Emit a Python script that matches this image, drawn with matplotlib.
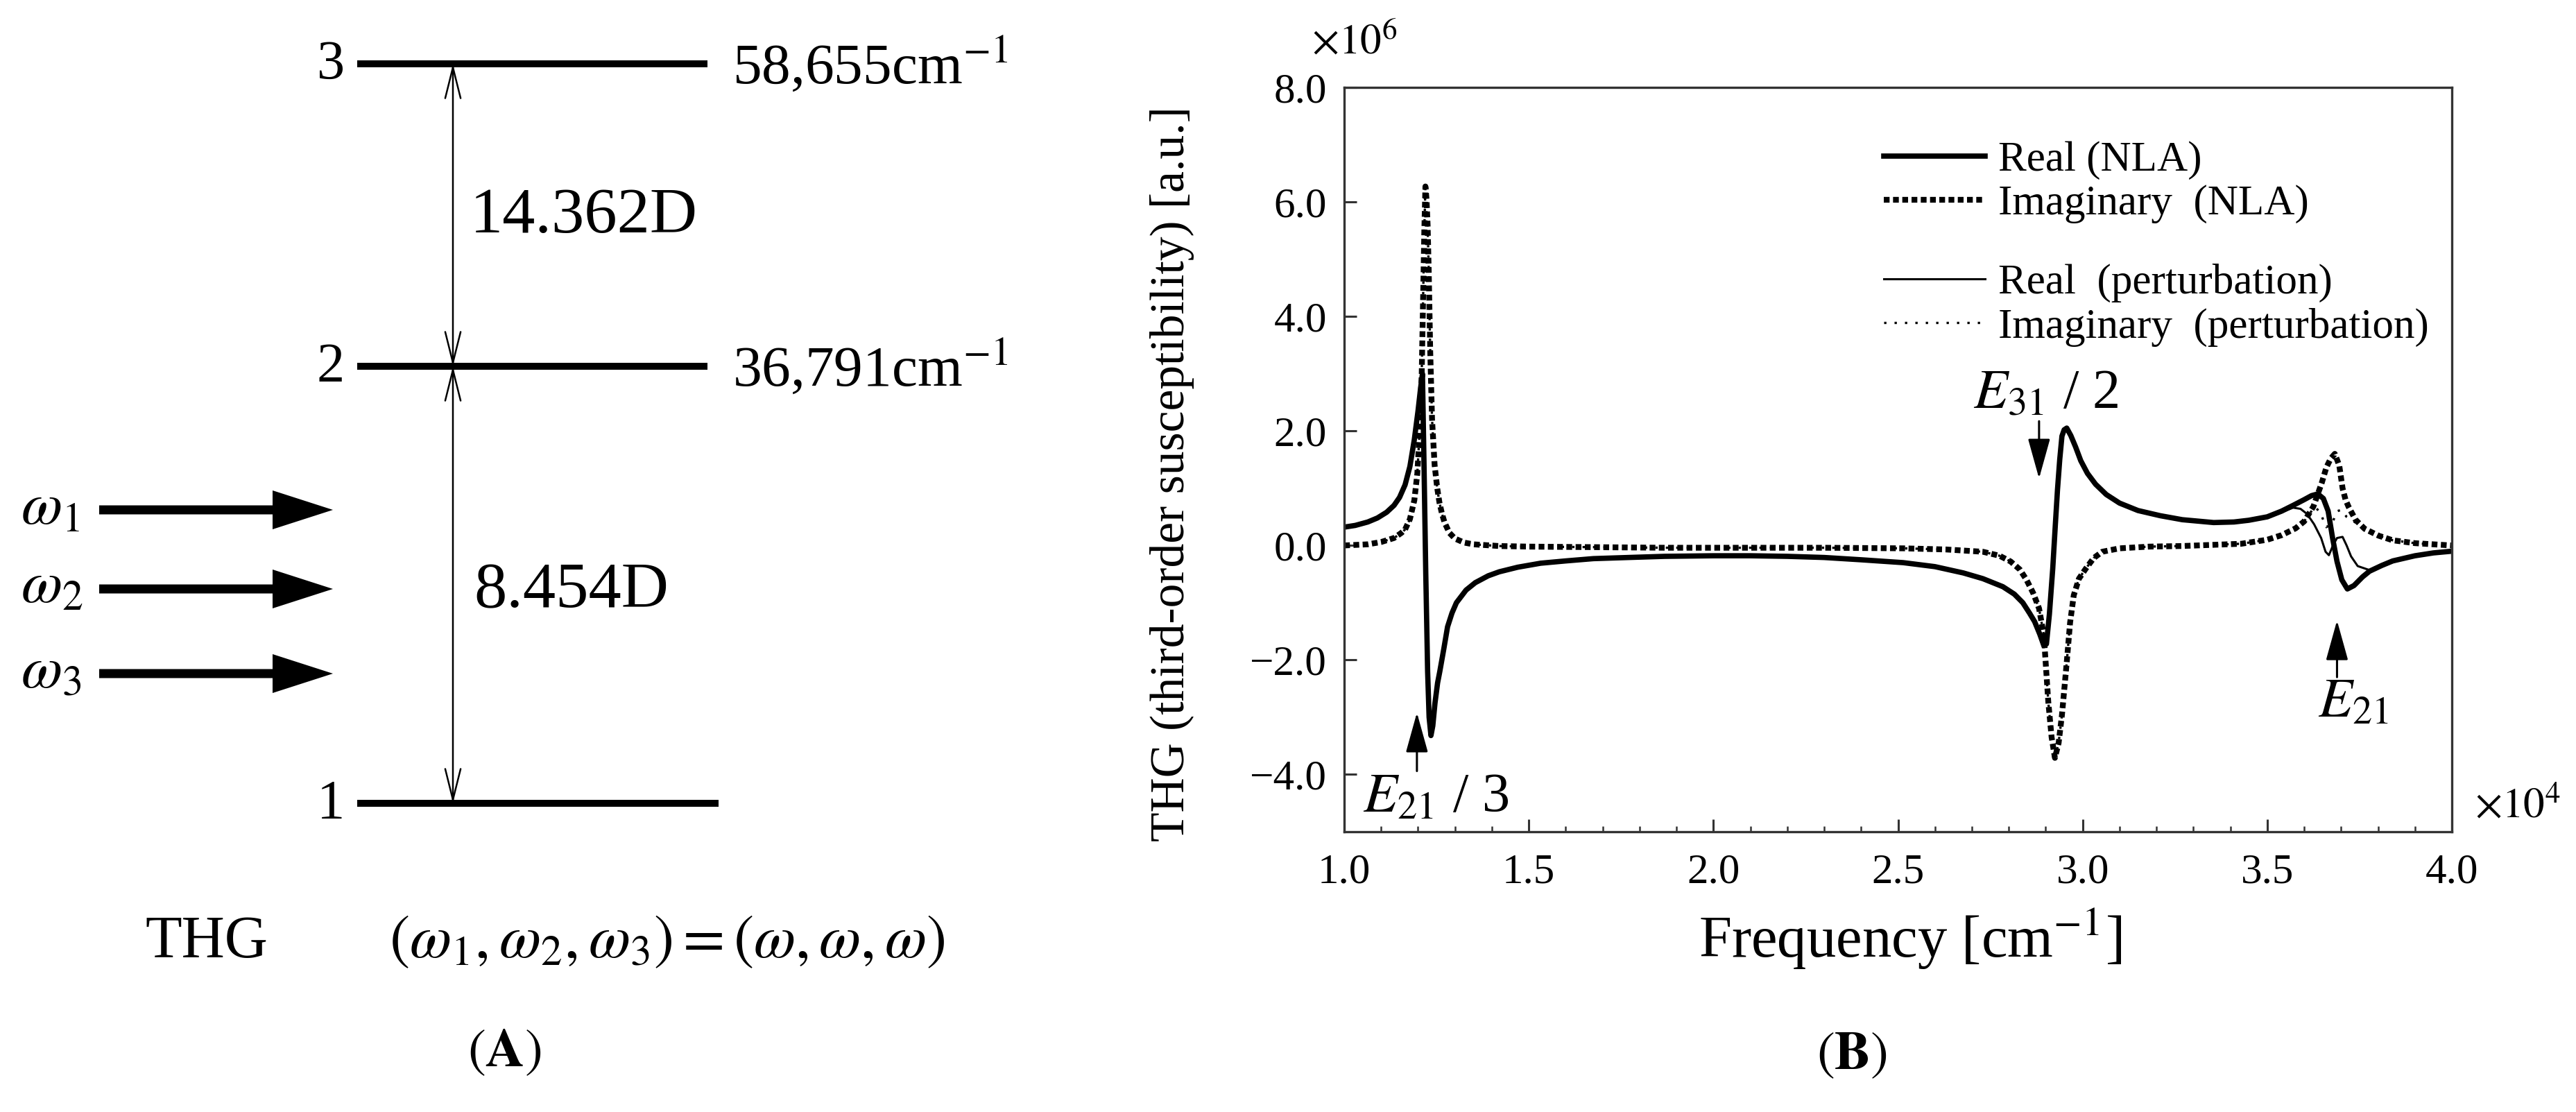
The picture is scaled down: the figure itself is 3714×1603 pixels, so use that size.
import matplotlib
matplotlib.use('Agg')
import matplotlib.pyplot as plt
from matplotlib.lines import Line2D
from matplotlib.ticker import FixedLocator, FixedFormatter, MultipleLocator

plt.rcParams['font.family'] = ['Liberation Serif', 'DejaVu Serif']
plt.rcParams['mathtext.fontset'] = 'stix'

# ---------------- Panel B data (x in 1e4 cm^-1, y in 1e6 a.u.) ----------------
real_nla_x = [1.00, 1.03, 1.064, 1.09, 1.115, 1.135, 1.15, 1.165, 1.178, 1.19, 1.20, 1.207,
              1.212, 1.216, 1.221, 1.226, 1.230, 1.235, 1.240, 1.246, 1.253, 1.259, 1.27,
              1.28, 1.292, 1.304, 1.33, 1.355, 1.39, 1.42, 1.47, 1.532, 1.60, 1.675, 1.77,
              1.868, 2.00, 2.10, 2.20, 2.30, 2.40, 2.514, 2.60, 2.677, 2.73, 2.784, 2.815,
              2.838, 2.856, 2.87, 2.884, 2.895, 2.902, 2.910, 2.919, 2.926, 2.932, 2.938,
              2.944, 2.950, 2.957, 2.968, 2.981, 2.995, 3.013, 3.035, 3.064, 3.10, 3.15,
              3.21, 3.27, 3.355, 3.41, 3.45, 3.50, 3.539, 3.57, 3.60, 3.62, 3.637, 3.652,
              3.665, 3.677, 3.689, 3.702, 3.717, 3.735, 3.758, 3.777, 3.81, 3.84, 3.90,
              3.95, 4.00]
real_nla_y = [0.32, 0.35, 0.41, 0.48, 0.58, 0.70, 0.84, 1.06, 1.38, 1.85, 2.35, 2.75,
              3.00, 1.50, -0.50, -2.20, -3.00, -3.32, -3.15, -2.75, -2.40, -2.20, -1.80,
              -1.42, -1.18, -1.00, -0.78, -0.65, -0.53, -0.46, -0.38, -0.31, -0.27, -0.23,
              -0.21, -0.19, -0.18, -0.18, -0.19, -0.21, -0.25, -0.30, -0.37, -0.48, -0.58,
              -0.72, -0.85, -1.00, -1.18, -1.33, -1.55, -1.75, -1.72, -1.20, -0.41, 0.35,
              0.98, 1.50, 1.91, 2.02, 2.05, 1.92, 1.72, 1.48, 1.26, 1.07, 0.89, 0.74, 0.61,
              0.52, 0.45, 0.40, 0.41, 0.44, 0.50, 0.60, 0.70, 0.80, 0.87, 0.90, 0.82,
              0.60, 0.13, -0.28, -0.60, -0.76, -0.70, -0.55, -0.45, -0.35, -0.27, -0.18,
              -0.13, -0.10]

imag_nla_x = [1.00, 1.064, 1.10, 1.135, 1.155, 1.165, 1.178, 1.19, 1.198, 1.204, 1.21,
              1.214, 1.217, 1.220, 1.223, 1.226, 1.229, 1.233, 1.238, 1.245, 1.252, 1.258,
              1.265, 1.272, 1.285, 1.30, 1.325, 1.35, 1.42, 1.50, 1.87, 2.30, 2.514, 2.63,
              2.73, 2.775, 2.805, 2.83, 2.848, 2.866, 2.882, 2.895, 2.907, 2.916, 2.925,
              2.935, 2.944, 2.957, 2.966, 2.976, 2.99, 3.008, 3.03, 3.053, 3.10, 3.18,
              3.268, 3.35, 3.43, 3.50, 3.539, 3.577, 3.60, 3.625, 3.648, 3.66, 3.672,
              3.683, 3.695, 3.704, 3.712, 3.720, 3.739, 3.764, 3.802, 3.84, 3.90, 4.00]
imag_nla_y = [0.00, 0.02, 0.06, 0.13, 0.22, 0.28, 0.46, 0.79, 1.25, 1.95, 3.00,
              4.40, 5.50, 6.27, 6.05, 5.60, 4.80, 3.40, 2.20, 1.40, 1.00, 0.75,
              0.55, 0.40, 0.22, 0.12, 0.05, 0.02, -0.01, -0.02, -0.04, -0.04, -0.05, -0.07,
              -0.11, -0.18, -0.28, -0.42, -0.60, -0.83, -1.10, -1.57, -2.73, -3.35, -3.71,
              -3.45, -2.96, -2.04, -1.35, -0.87, -0.58, -0.41, -0.22, -0.11, -0.05, -0.02,
              -0.01, 0.01, 0.03, 0.10, 0.18, 0.30, 0.42, 0.68, 1.10, 1.36, 1.52,
              1.60, 1.40, 1.00, 0.80, 0.68, 0.45, 0.29, 0.17, 0.09, 0.04, 0.00]

real_pert_x = [1.00, 1.03, 1.064, 1.09, 1.115, 1.135, 1.15, 1.165, 1.178, 1.19, 1.20, 1.207,
               1.212, 1.216, 1.221, 1.226, 1.230, 1.235, 1.240, 1.246, 1.253, 1.259, 1.27,
               1.28, 1.292, 1.304, 1.33, 1.355, 1.39, 1.42, 1.47, 1.532, 1.60, 1.675, 1.77,
               1.868, 2.00, 2.10, 2.20, 2.30, 2.40, 2.514, 2.60, 2.677, 2.73, 2.784, 2.815,
               2.838, 2.856, 2.87, 2.884, 2.895, 2.902, 2.910, 2.919, 2.926, 2.932, 2.938,
               2.944, 2.950, 2.957, 2.968, 2.981, 2.995, 3.013, 3.035, 3.064, 3.10, 3.15,
               3.21, 3.27, 3.355, 3.41, 3.45, 3.50, 3.539, 3.57, 3.59, 3.608, 3.627, 3.646,
               3.658, 3.667, 3.678, 3.689, 3.704, 3.715, 3.727, 3.745, 3.777, 3.81, 3.84,
               3.90, 3.95, 4.00]
real_pert_y = [0.32, 0.35, 0.41, 0.48, 0.58, 0.70, 0.84, 1.06, 1.38, 1.85, 2.35, 2.75,
               3.00, 1.50, -0.50, -2.20, -3.00, -3.32, -3.15, -2.75, -2.40, -2.20, -1.80,
               -1.42, -1.18, -1.00, -0.78, -0.65, -0.53, -0.46, -0.38, -0.31, -0.27, -0.23,
               -0.21, -0.19, -0.18, -0.18, -0.19, -0.21, -0.25, -0.30, -0.37, -0.48, -0.58,
               -0.72, -0.85, -1.00, -1.18, -1.33, -1.55, -1.75, -1.72, -1.20, -0.41, 0.35,
               0.98, 1.50, 1.91, 2.02, 2.05, 1.92, 1.72, 1.48, 1.26, 1.07, 0.89, 0.74, 0.61,
               0.52, 0.45, 0.40, 0.41, 0.44, 0.50, 0.58, 0.66, 0.64, 0.55, 0.37, 0.13,
               -0.11, -0.17, 0.00, 0.13, 0.15, 0.00, -0.19, -0.36, -0.43, -0.35, -0.27,
               -0.18, -0.13, -0.10]

imag_pert_x = [1.00, 1.064, 1.10, 1.135, 1.155, 1.165, 1.178, 1.19, 1.198, 1.204, 1.21,
               1.214, 1.217, 1.220, 1.223, 1.226, 1.229, 1.233, 1.238, 1.245, 1.252, 1.258,
               1.265, 1.272, 1.285, 1.30, 1.325, 1.35, 1.42, 1.50, 1.87, 2.30, 2.514, 2.63,
               2.73, 2.775, 2.805, 2.83, 2.848, 2.866, 2.882, 2.895, 2.907, 2.916, 2.925,
               2.935, 2.944, 2.957, 2.966, 2.976, 2.99, 3.008, 3.03, 3.053, 3.10, 3.18,
               3.268, 3.35, 3.43, 3.50, 3.539, 3.577, 3.60, 3.615, 3.63, 3.645, 3.66,
               3.675, 3.69, 3.70, 3.715, 3.739, 3.764, 3.802, 3.84, 3.90, 4.00]
imag_pert_y = [0.00, 0.02, 0.06, 0.13, 0.22, 0.28, 0.46, 0.79, 1.25, 1.95, 3.00,
               4.40, 5.50, 6.27, 6.05, 5.60, 4.80, 3.40, 2.20, 1.40, 1.00, 0.75,
               0.55, 0.40, 0.22, 0.12, 0.05, 0.02, -0.01, -0.02, -0.04, -0.04, -0.05, -0.07,
               -0.11, -0.18, -0.28, -0.42, -0.60, -0.83, -1.10, -1.57, -2.73, -3.35, -3.71,
               -3.45, -2.96, -2.04, -1.35, -0.87, -0.58, -0.41, -0.22, -0.11, -0.05, -0.02,
               -0.01, 0.01, 0.03, 0.10, 0.18, 0.30, 0.42, 0.56, 0.68, 0.55, 0.32,
               0.38, 0.60, 0.62, 0.50, 0.40, 0.29, 0.17, 0.09, 0.04, 0.00]

series_labels = ['Real (NLA)', 'Imaginary  (NLA)', 'Real  (perturbation)',
                 'Imaginary  (perturbation)']
xticks = [1.0, 1.5, 2.0, 2.5, 3.0, 3.5, 4.0]
yticks = [-4.0, -2.0, 0.0, 2.0, 4.0, 6.0, 8.0]
xtick_labels = [f"{v:.1f}" for v in xticks]
ytick_labels = [f"{v:.1f}".replace('-', '\u2212') for v in yticks]

# resonance annotations (label, arrow x, arrow tail y, arrow tip y, text anchor)
res_labels = [r'$E_{21}$ / 3', r'$E_{31}$ / 2', r'$E_{21}$']
res_arrow_x = [1.197, 2.882, 3.689]
res_arrow_tail = [-3.94, 2.17, -2.30]
res_arrow_tip = [-2.92, 1.17, -1.31]
res_text_xy = [(1.05, -4.65), (2.703, 2.40), (3.638, -2.99)]

# ---------------- Panel A data ----------------
level_names = ['1', '2', '3']
level_energy_text = ['', '36,791cm$^{-1}$', '58,655cm$^{-1}$']
dipole_text = ['8.454D', '14.362D']
beam_labels = [r'$\omega_1$', r'$\omega_2$', r'$\omega_3$']

# ---------------- Figure ----------------
W, H = 3714, 1603
fig = plt.figure(figsize=(W / 100, H / 100), dpi=100)
fig.patch.set_facecolor('white')

# ---- Panel A (schematic; 1 unit = 100 px) ----
axA = fig.add_axes([0, 0, 1600 / W, 1])
axA.set_xlim(0, 16)
axA.set_ylim(-4.45, 11.58)
axA.axis('off')

level_y = [0.0, 6.30, 10.66]
level_x0 = [5.15, 5.15, 5.15]
level_x1 = [10.36, 10.20, 10.20]
for name, en, y, x0, x1 in zip(level_names, level_energy_text, level_y, level_x0, level_x1):
    axA.plot([x0, x1], [y, y], color='black', lw=7.2, solid_capstyle='butt')
    axA.text(4.97, y - 0.02, name, ha='right', va='center', fontsize=58)
    if en:
        axA.text(10.56, y - 0.28, en, ha='left', va='baseline', fontsize=60)

arr_x = 6.53
for (ya, yb) in [(level_y[0], level_y[1]), (level_y[1], level_y[2])]:
    axA.annotate('', xy=(arr_x, yb), xytext=(arr_x, ya),
                 arrowprops=dict(arrowstyle='<->,head_length=3.2,head_width=0.8',
                                 lw=1.8, color='black', shrinkA=0, shrinkB=0,
                                 mutation_scale=10))
axA.text(6.83, 2.83, dipole_text[0], ha='left', va='baseline', fontsize=68)
axA.text(6.78, 8.23, dipole_text[1], ha='left', va='baseline', fontsize=68)

beam_y = [4.23, 3.09, 1.87]
for lab, y in zip(beam_labels, beam_y):
    axA.arrow(1.43, y, 3.37, 0, width=0.13, head_width=0.56, head_length=0.87,
              length_includes_head=True, fc='black', ec='black', lw=0)
    axA.text(0.30, y - 0.20, lab, ha='left', va='baseline', fontsize=62)

axA.text(2.09, -2.22, 'THG', ha='left', va='baseline', fontsize=62)
axA.text(5.61, -2.22, r'$(\omega_1,\omega_2,\omega_3)=(\omega,\omega,\omega)$',
         ha='left', va='baseline', fontsize=63)
axA.text(7.27, -3.60, r'$(\mathbf{A})$', ha='center', va='center', fontsize=56)

# ---- Panel B ----
axB = fig.add_axes([1938 / W, 1 - 1199 / H, (3535 - 1938) / W, (1199 - 126) / H])
axB.plot(imag_pert_x, imag_pert_y, color='black', lw=2.4, linestyle=(0, (1, 3.5)))
axB.plot(real_pert_x, real_pert_y, color='black', lw=2.2, solid_joinstyle='round')
axB.plot(imag_nla_x, imag_nla_y, color='black', lw=6.0, linestyle=(0, (1.0, 0.6)))
axB.plot(real_nla_x, real_nla_y, color='black', lw=5.5, solid_joinstyle='round',
         solid_capstyle='round')

axB.set_xlim(1.0, 4.0)
axB.set_ylim(-5.0, 8.0)
axB.xaxis.set_major_locator(FixedLocator(xticks))
axB.xaxis.set_major_formatter(FixedFormatter(xtick_labels))
axB.yaxis.set_major_locator(FixedLocator(yticks))
axB.yaxis.set_major_formatter(FixedFormatter(ytick_labels))
axB.xaxis.set_minor_locator(MultipleLocator(0.1))
axB.tick_params(which='major', direction='in', length=13, width=2.2, labelsize=44,
                color='#333333')
axB.tick_params(axis='x', which='major', pad=22)
axB.tick_params(axis='y', which='major', pad=18)
axB.tick_params(axis='x', which='minor', direction='in', length=6, width=1.8,
                color='#333333')
axB.tick_params(top=False, right=False, which='both')
for sp in axB.spines.values():
    sp.set_linewidth(2.4)
    sp.set_color('#333333')

axB.set_xlabel('Frequency [cm$^{-1}$]', fontsize=61)
axB.xaxis.set_label_coords(0.511, -0.10)
axB.set_ylabel('THG (third-order susceptibility) [a.u.]', fontsize=50)
axB.yaxis.set_label_coords(-0.135, 0.481)

for lab, ax_x, t0, t1, (tx, ty) in zip(res_labels, res_arrow_x, res_arrow_tail,
                                        res_arrow_tip, res_text_xy):
    axB.annotate('', xy=(ax_x, t1), xytext=(ax_x, t0),
                 arrowprops=dict(arrowstyle='-|>,head_length=3.6,head_width=1.0',
                                 lw=2.2, color='black', shrinkA=0, shrinkB=0,
                                 mutation_scale=10))
    axB.text(tx, ty, lab, ha='left', va='baseline', fontsize=58)

h = [Line2D([], [], color='black', lw=5.5),
     Line2D([], [], color='black', lw=6.0, linestyle=(0, (1.0, 0.6))),
     Line2D([], [], color='black', lw=2.2),
     Line2D([], [], color='black', lw=2.4, linestyle=(0, (1, 3.5)))]
leg_kw = dict(loc='upper left', frameon=False, fontsize=44, handlelength=2.4,
              handletextpad=0.3, labelspacing=0.12, borderpad=0, borderaxespad=0)
leg1 = axB.legend(h[:2], series_labels[:2], bbox_to_anchor=(0.487, 0.928), **leg_kw)
axB.add_artist(leg1)
axB.legend(h[2:], series_labels[2:], bbox_to_anchor=(0.487, 0.763), **leg_kw)

fig.text(1953 / W, 1 - 62 / H, r'$\times10^{6}$', ha='center', va='center', fontsize=44)
fig.text(3630 / W, 1 - 1163 / H, r'$\times10^{4}$', ha='center', va='center', fontsize=44)
fig.text(2670 / W, 1 - 1522 / H, r'$(\mathbf{B})$', ha='center', va='center', fontsize=56)

fig.savefig('out.png', dpi=100, facecolor='white')
